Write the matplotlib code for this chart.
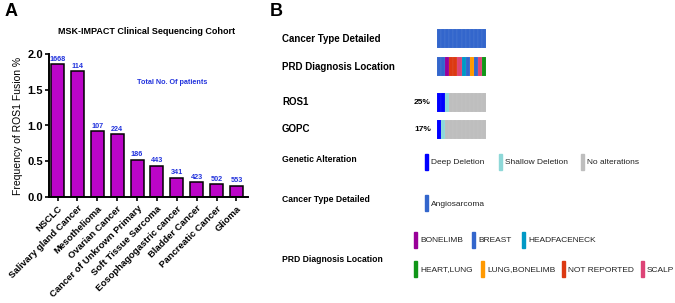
import numpy as np
import matplotlib
matplotlib.use("Agg")
import matplotlib.pyplot as plt

plt.rcParams['font.family'] = ['Liberation Sans', 'DejaVu Sans']

# ---- panel A data ----
cancers = ["NSCLC", "Salivary gland Cancer", "Mesothelioma", "Ovarian Cancer",
           "Cancer of Unkrown Primary", "Soft Tissue Sarcoma", "Eosophagogastric cancer",
           "Bladder Cancer", "Pancreatic Cancer", "Glioma"]
fusion_pct = [1.86, 1.76, 0.92, 0.88, 0.52, 0.44, 0.27, 0.21, 0.18, 0.16]
n_patients = [1668, 114, 107, 224, 186, 443, 341, 423, 502, 553]
yticks = [0.0, 0.5, 1.0, 1.5, 2.0]

# ---- panel B data (12 samples) ----
cancer_type = ["Angiosarcoma"] * 12
prd_location = ["BREAST", "BREAST", "BONELIMB", "NOT REPORTED", "NOT REPORTED", "SCALP",
                "HEADFACENECK", "BREAST", "LUNG,BONELIMB", "BREAST", "SCALP", "HEART,LUNG"]
ros1 = ["deep", "deep", "shallow"] + ["none"] * 9
gopc = ["deep", "shallow"] + ["none"] * 10
ros1_pct = "25%"
gopc_pct = "17%"

alt_labels = {"deep": "Deep Deletion", "shallow": "Shallow Deletion", "none": "No alterations"}
alt_colors = {"deep": "#0000FF", "shallow": "#8ED8D8", "none": "#BEBEBE"}
type_colors = {"Angiosarcoma": "#3366CC"}
loc_order = ["BONELIMB", "BREAST", "HEADFACENECK", "HEART,LUNG", "LUNG,BONELIMB",
             "NOT REPORTED", "SCALP"]
loc_colors = {"BONELIMB": "#990099", "BREAST": "#3366CC", "HEADFACENECK": "#0099C6",
              "HEART,LUNG": "#109618", "LUNG,BONELIMB": "#FF9900",
              "NOT REPORTED": "#DC3912", "SCALP": "#DD4477"}

W, H = 675, 303
fig = plt.figure(figsize=(W / 100, H / 100), dpi=100)


def px(x0, y0, x1, y1):
    # pixel box -> figure fraction rect
    return [x0 / W, 1 - y1 / H, (x1 - x0) / W, (y1 - y0) / H]


# ================= panel A =================
bar_col = "#BB05C8"
txt_blue = "#2233DD"
ax = fig.add_axes(px(49, 54, 248, 197))
x = np.arange(len(cancers))
ax.bar(x, fusion_pct, width=0.65, color=bar_col, edgecolor="black", linewidth=1.1)
for xi, v, n in zip(x, fusion_pct, n_patients):
    ax.text(xi, v + 0.02, str(n), ha="center", va="bottom", color=txt_blue,
            fontsize=5.2, fontweight="bold")
ax.set_xlim(-0.43, 9.58)
ax.set_ylim(0, 2.0)
ax.set_yticks(yticks)
ax.set_yticklabels([f"{t:.1f}" for t in yticks], fontsize=8, fontweight="bold")
ax.set_xticks(x)
ax.set_xticklabels(cancers, rotation=45, ha="right", rotation_mode="anchor",
                   fontsize=6.8, fontweight="bold")
ax.tick_params(axis="both", width=1.2, length=3, pad=1.5)
ax.tick_params(axis="x", pad=2)
for s in ["top", "right"]:
    ax.spines[s].set_visible(False)
for s in ["left", "bottom"]:
    ax.spines[s].set_linewidth(1.4)
ax.set_ylabel("Frequency of ROS1 Fusion %", fontsize=7.5, labelpad=3)
ax.text(0.62, 0.8, "Total No. Of patients", transform=ax.transAxes, ha="center",
        va="center", color=txt_blue, fontsize=5.2, fontweight="bold")
fig.text(147 / W, 1 - 32 / H, "MSK-IMPACT Clinical Sequencing Cohort", ha="center",
         va="center", fontsize=6.5, fontweight="bold")
fig.text(5 / W, 1 - 12 / H, "A", ha="left", va="center", fontsize=13, fontweight="bold")

# ================= panel B =================
fig.text(270 / W, 1 - 12 / H, "B", ha="left", va="center", fontsize=13, fontweight="bold")

axb = fig.add_axes(px(437, 29, 486, 139))
axb.set_xlim(-0.5, 11.5)
axb.set_ylim(110, 0)
axb.axis("off")
n = len(cancer_type)
xs = np.arange(n)
tracks = [
    ("Cancer Type Detailed", [type_colors[c] for c in cancer_type], 0, None),
    ("PRD Diagnosis Location", [loc_colors[c] for c in prd_location], 28, None),
    ("ROS1", [alt_colors[a] for a in ros1], 64, ros1_pct),
    ("GOPC", [alt_colors[a] for a in gopc], 91, gopc_pct),
]
for name, cols, top, pct in tracks:
    axb.bar(xs, 19, bottom=top, width=1.0, color=cols, edgecolor="#FFFFFF40", linewidth=0.15)
    yc = 1 - (29 + top + 9.5) / H
    fig.text(282 / W, yc, name, ha="left", va="center", fontsize=7, fontweight="bold")
    if pct:
        fig.text(431 / W, yc, pct, ha="right", va="center", fontsize=6, fontweight="bold")

# legends
def legend_item(x0, y0, color, label):
    fig.patches.append(plt.Rectangle((x0 / W, 1 - (y0 + 8) / H), 3 / W, 16 / H,
                                     color=color, transform=fig.transFigure))
    fig.text((x0 + 6) / W, 1 - (y0 + 1) / H, label, ha="left", va="center",
             fontsize=6, color="#222222")


fig.text(282 / W, 1 - 159 / H, "Genetic Alteration", ha="left", va="center",
         fontsize=6.2, fontweight="bold")
for key, lx in zip(["deep", "shallow", "none"], [425, 499, 581]):
    legend_item(lx, 162, alt_colors[key], alt_labels[key])

fig.text(282 / W, 1 - 200 / H, "Cancer Type Detailed", ha="left", va="center",
         fontsize=6.2, fontweight="bold")
legend_item(425, 203, type_colors["Angiosarcoma"], "Angiosarcoma")

fig.text(282 / W, 1 - 259 / H, "PRD Diagnosis Location", ha="left", va="center",
         fontsize=6.2, fontweight="bold")
loc_pos = [(414, 240), (472, 240), (522, 240), (414, 269), (481, 269), (562, 269), (641, 269)]
for key, (lx, ly) in zip(loc_order, loc_pos):
    legend_item(lx, ly, loc_colors[key], key)

fig.savefig("out.png", dpi=100)
